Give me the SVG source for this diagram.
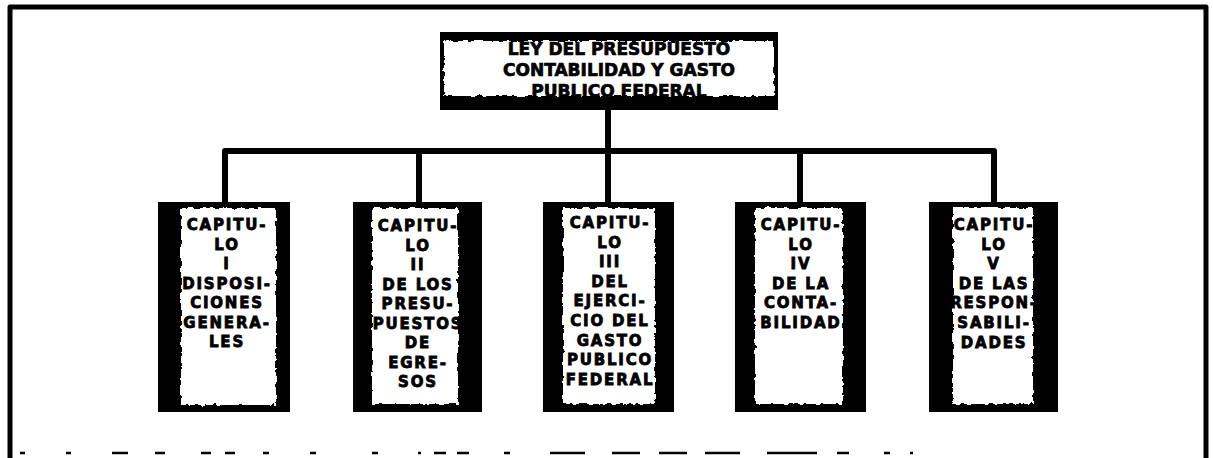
<svg xmlns="http://www.w3.org/2000/svg" width="1213" height="458" viewBox="0 0 1213 458">
<style>
.frame{fill:none;stroke:#000;stroke-width:5;stroke-linejoin:round}
.conn{fill:none;stroke:#000;stroke-width:6;stroke-linejoin:round;stroke-linecap:butt}
.blk{fill:#000}
.wht{fill:#fff;filter:url(#rough)}
.ttl{font-family:"DejaVu Sans","Liberation Sans",sans-serif;font-weight:bold;font-size:17px;fill:#000;stroke:#000;stroke-width:0.7;text-anchor:middle}
.cap{font-family:"DejaVu Sans","Liberation Sans",sans-serif;font-weight:bold;font-size:15px;letter-spacing:1.8px;fill:#000;stroke:#000;stroke-width:0.8;text-anchor:middle}
.frag{fill:none;stroke:#000;stroke-width:2.5}
</style>
<defs>
<filter id="rough" x="-5%" y="-5%" width="110%" height="110%">
<feTurbulence type="fractalNoise" baseFrequency="0.18" numOctaves="2" seed="3" result="n"/>
<feDisplacementMap in="SourceGraphic" in2="n" scale="5" xChannelSelector="R" yChannelSelector="G"/>
</filter>
</defs>
<rect width="1213" height="458" fill="#fff"/>
<g id="frame">
<path class="frame" d="M10,458 V7 H1206 V458"/>
</g>
<g id="connectors">
<path class="conn" d="M608,110 V151"/>
<path class="conn" d="M225,202 V151 H994 V202"/>
<path class="conn" d="M419,151 V202"/>
<path class="conn" d="M608,151 V202"/>
<path class="conn" d="M800,151 V202"/>
</g>
<g id="root">
<rect class="blk" x="440" y="32" width="338" height="78"/>
<rect class="wht" x="444" y="41" width="330" height="55"/>
<text class="ttl" x="619" y="55">LEY DEL PRESUPUESTO</text>
<text class="ttl" x="619" y="76">CONTABILIDAD Y GASTO</text>
<text class="ttl" x="619" y="97">PUBLICO FEDERAL</text>
</g>
<g id="cap1">
<rect class="blk" x="158" y="202" width="132" height="210"/>
<rect class="wht" x="181" y="208" width="95" height="197"/>
<text class="cap" x="227" y="230">CAPITU-</text>
<text class="cap" x="227" y="249.5">LO</text>
<text class="cap" x="227" y="269">I</text>
<text class="cap" x="227" y="288.5">DISPOSI-</text>
<text class="cap" x="227" y="308">CIONES</text>
<text class="cap" x="227" y="327.5">GENERA-</text>
<text class="cap" x="227" y="347">LES</text>
</g>
<g id="cap2">
<rect class="blk" x="353" y="202" width="129" height="210"/>
<rect class="wht" x="372" y="208" width="86" height="196"/>
<text class="cap" x="418" y="231">CAPITU-</text>
<text class="cap" x="418" y="250.5">LO</text>
<text class="cap" x="418" y="270">II</text>
<text class="cap" x="418" y="289.5">DE LOS</text>
<text class="cap" x="418" y="309">PRESU-</text>
<text class="cap" x="418" y="328.5">PUESTOS</text>
<text class="cap" x="418" y="348">DE</text>
<text class="cap" x="418" y="367.5">EGRE-</text>
<text class="cap" x="418" y="387">SOS</text>
</g>
<g id="cap3">
<rect class="blk" x="543" y="202" width="131" height="210"/>
<rect class="wht" x="563" y="208" width="92" height="196"/>
<text class="cap" x="610" y="228">CAPITU-</text>
<text class="cap" x="610" y="247.6">LO</text>
<text class="cap" x="610" y="267.2">III</text>
<text class="cap" x="610" y="286.8">DEL</text>
<text class="cap" x="610" y="306.4">EJERCI-</text>
<text class="cap" x="610" y="326">CIO DEL</text>
<text class="cap" x="610" y="345.6">GASTO</text>
<text class="cap" x="610" y="365.2">PUBLICO</text>
<text class="cap" x="610" y="384.8">FEDERAL</text>
</g>
<g id="cap4">
<rect class="blk" x="735" y="202" width="131" height="210"/>
<rect class="wht" x="755" y="208" width="88" height="196"/>
<text class="cap" x="801" y="230">CAPITU-</text>
<text class="cap" x="801" y="249.6">LO</text>
<text class="cap" x="801" y="269.2">IV</text>
<text class="cap" x="801" y="288.8">DE LA</text>
<text class="cap" x="801" y="308.4">CONTA-</text>
<text class="cap" x="801" y="328">BILIDAD</text>
</g>
<g id="cap5">
<rect class="blk" x="929" y="202" width="129" height="210"/>
<rect class="wht" x="953" y="208" width="80" height="196"/>
<text class="cap" x="994" y="230">CAPITU-</text>
<text class="cap" x="994" y="249.6">LO</text>
<text class="cap" x="994" y="269.2">V</text>
<text class="cap" x="994" y="288.8">DE LAS</text>
<text class="cap" x="994" y="308.4">RESPON-</text>
<text class="cap" x="994" y="328">SABILI-</text>
<text class="cap" x="994" y="347.6">DADES</text>
</g>
<g id="fragments">
<path class="frag" d="M20,453h5 M66,453h5 M112,453h16 M155,453h10 M201,453h10 M225,453h10 M263,453h6 M310,453h6 M372,453h6 M418,453h3 M434,453h12 M457,453h12 M504,453h6 M550,453h35 M612,453h28 M659,453h28 M705,453h35 M767,453h50 M837,453h12 M884,453h6 M910,453h3"/>
</g>
</svg>
